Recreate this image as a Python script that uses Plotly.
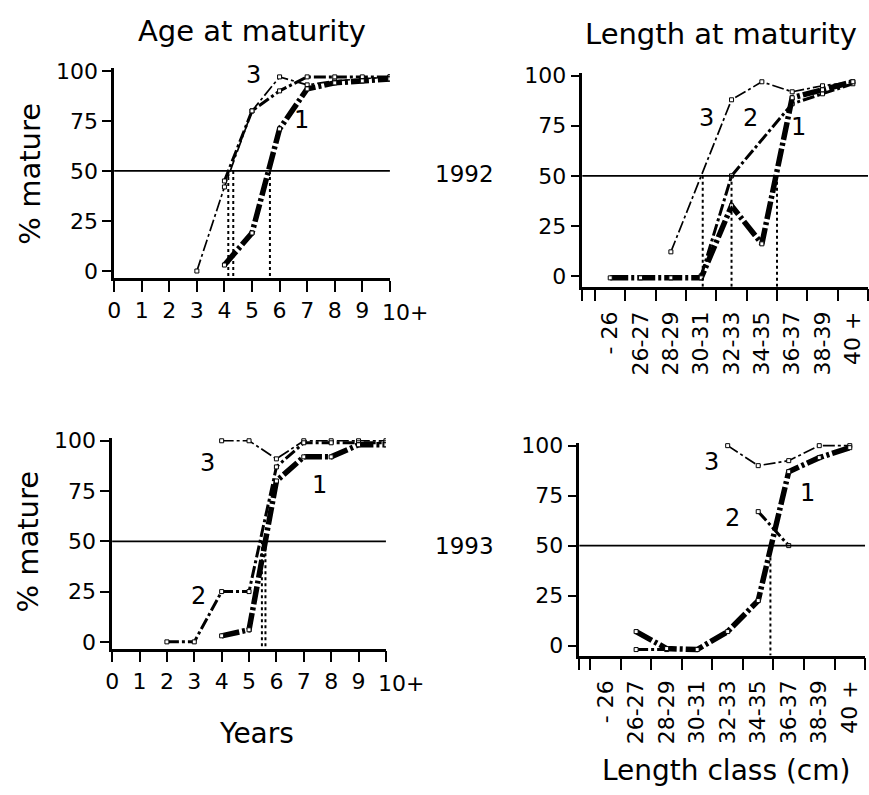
import plotly.graph_objects as go

W, H = 869, 795
FONT = "DejaVu Sans"

# ---------------- data ----------------
age_ticks = list(range(11))
age_ticktext = ["0", "1", "2", "3", "4", "5", "6", "7", "8", "9", ""]
age_last_label = "10+"
len_classes = ["- 26", "26-27", "28-29", "30-31", "32-33", "34-35", "36-37", "38-39", "40 +"]
y_ticks = [0, 25, 50, 75, 100]

# 1992, age at maturity
age92_s1_x = [4, 5, 6, 7, 8, 9, 10]
age92_s1_y = [3, 19, 71, 91, 94, 95, 96]
age92_s2_x = [4, 5, 6, 7, 8, 9, 10]
age92_s2_y = [45, 80, 90, 97, 97, 97, 97]
age92_s3_x = [3, 4, 5, 6, 7, 8, 9, 10]
age92_s3_y = [0, 42, 80, 97, 93, 95, 96, 97]
age92_a50 = [5.65, 4.32, 4.14]

# 1992, length at maturity (x = index into len_classes)
len92_s1_x = [0, 1, 2, 3, 4, 5, 6, 7, 8]
len92_s1_y = [-1, -1, -1, -1, 35, 16, 89, 93, 97]
len92_s2_x = [3, 4, 6, 7, 8]
len92_s2_y = [0, 50, 86, 91, 96]
len92_s3_x = [2, 4, 5, 6, 7, 8]
len92_s3_y = [12, 88, 97, 92, 95, 97]
len92_a50 = [5.5, 4.0, 3.05]

# 1993, age at maturity
age93_s1_x = [4, 5, 6, 7, 8, 9, 10]
age93_s1_y = [3, 6, 80, 92, 92, 98, 98]
age93_s2_x = [2, 3, 4, 5, 6, 7, 8, 9, 10]
age93_s2_y = [0, 0, 25, 25, 87, 99, 99, 99, 99]
age93_s3_x = [4, 5, 6, 7, 8, 9, 10]
age93_s3_y = [100, 100, 91, 100, 100, 100, 100]
age93_a50 = [5.6, 5.47]

# 1993, length at maturity
len93_s1_x = [1, 2, 3, 4, 5, 6, 7, 8]
len93_s1_y = [7, -1.5, -2, 7, 22.5, 87, 94, 99]
len93_s2_x = [1, 2, None, 5, 6]
len93_s2_y = [-2, -2, None, 67, 50]
len93_s3_x = [4, 5, 6, 7, 8]
len93_s3_y = [100, 90, 92.5, 100, 100]
len93_a50 = [5.4]

# ---------------- styles ----------------
STYLE = {
    1: dict(width=5.5, dash="18px,3px,3px,3px"),
    2: dict(width=3.0, dash="12px,3px,3px,3px"),
    3: dict(width=1.7, dash="12px,3px,3px,3px"),
}

def px_x(p):
    return p / W

def px_y(p):
    return 1 - p / H

# panel geometry (pixels): x-left, x-right, y-top, y-bottom, ranges
panels = {
    "TL": dict(xl=108, xr=386, yt=60, yb=274, yr=[-3.4, 101.5], xr_=[0, 10]),
    "TR": dict(xl=580, xr=868, yt=65, yb=283, yr=[-5.4, 101.5], xr_=[-0.92, 8.5]),
    "BL": dict(xl=106, xr=382, yt=437, yb=652, yr=[-3.4, 101.5], xr_=[0, 10]),
    "BR": dict(xl=577, xr=865, yt=442, yb=659, yr=[-5.0, 101.5], xr_=[-0.86, 8.5]),
}
axis_ids = {"TL": ("x", "y"), "TR": ("x2", "y2"), "BL": ("x3", "y3"), "BR": ("x4", "y4")}
label_axes = {"TR": "x5", "BR": "x6"}

fig = go.Figure()

def add_series(panel, xs, ys, k):
    xa, ya = axis_ids[panel]
    fig.add_trace(go.Scatter(
        x=xs, y=ys, xaxis=xa, yaxis=ya, mode="lines+markers",
        line=dict(color="black", **STYLE[k]),
        marker=dict(symbol="square", size=4, color="white", line=dict(color="black", width=1)),
        showlegend=False, hoverinfo="skip", connectgaps=False,
    ))

def add_a50(panel, vals):
    xa, ya = axis_ids[panel]
    xa = label_axes.get(panel, xa)
    ybot = panels[panel]["yr"][0]
    for v in vals:
        fig.add_trace(go.Scatter(
            x=[v, v], y=[50, ybot], xaxis=xa, yaxis=ya, mode="lines",
            line=dict(color="black", width=2, dash="dot"),
            showlegend=False, hoverinfo="skip",
        ))

add_a50("TL", age92_a50)
add_series("TL", age92_s3_x, age92_s3_y, 3)
add_series("TL", age92_s2_x, age92_s2_y, 2)
add_series("TL", age92_s1_x, age92_s1_y, 1)

add_series("TR", len92_s3_x, len92_s3_y, 3)
add_series("TR", len92_s2_x, len92_s2_y, 2)
add_series("TR", len92_s1_x, len92_s1_y, 1)
add_a50("TR", len92_a50)

add_a50("BL", age93_a50)
add_series("BL", age93_s3_x, age93_s3_y, 3)
add_series("BL", age93_s2_x, age93_s2_y, 2)
add_series("BL", age93_s1_x, age93_s1_y, 1)

add_series("BR", len93_s3_x, len93_s3_y, 3)
add_series("BR", len93_s2_x, len93_s2_y, 2)
add_series("BR", len93_s1_x, len93_s1_y, 1)
add_a50("BR", len93_a50)

TICK_SIZE = 22
tickfont = dict(family=FONT, size=TICK_SIZE, color="black")
layout = dict(
    width=W, height=H, autosize=False, margin=dict(l=0, r=0, t=0, b=0),
    paper_bgcolor="white", plot_bgcolor="white", showlegend=False,
)

for name, (xa, ya) in axis_ids.items():
    p = panels[name]
    xkey = "xaxis" if xa == "x" else "xaxis" + xa[1:]
    ykey = "yaxis" if ya == "y" else "yaxis" + ya[1:]
    layout[ykey] = dict(
        domain=[px_y(p["yb"]), px_y(p["yt"])], anchor=xa, range=p["yr"],
        tickvals=y_ticks, ticks="outside", ticklen=9, tickwidth=2, tickcolor="black",
        showline=True, linewidth=2.5, linecolor="black", showgrid=False, zeroline=False,
        tickfont=tickfont,
    )
    xdict = dict(
        domain=[px_x(p["xl"]), px_x(p["xr"])], anchor=ya, range=p["xr_"],
        ticks="outside", ticklen=11, tickwidth=2, tickcolor="black",
        showline=True, linewidth=2.5, linecolor="black", showgrid=False, zeroline=False,
        tickfont=tickfont,
    )
    if name in ("TL", "BL"):
        xdict.update(tickvals=age_ticks, ticktext=age_ticktext, tickangle=0)
    else:
        bounds = [p["xr_"][0]] + [i - 0.5 for i in range(len(len_classes) + 1)]
        xdict.update(tickvals=bounds, showticklabels=False, ticklen=12)
    layout[xkey] = xdict

# overlay axes carrying the class labels (centred between tick marks)
for name, ov in label_axes.items():
    xa, ya = axis_ids[name]
    p = panels[name]
    layout["xaxis" + ov[1:]] = dict(
        overlaying=xa, anchor=ya, range=p["xr_"],
        tickvals=list(range(len(len_classes))), ticktext=len_classes, tickangle=-90,
        ticks="outside", ticklen=15, tickcolor="rgba(0,0,0,0)",
        showline=False, showgrid=False, zeroline=False, tickfont=tickfont,
    )

fig.update_layout(**layout)

# last age tick label, set a little to the right as in the original
for name in ("TL", "BL"):
    xa, ya = axis_ids[name]
    fig.add_annotation(text=age_last_label, x=age_ticks[-1], y=0, xref=xa, yref=ya + " domain",
                       xanchor="left", yanchor="top", xshift=-10, yshift=-20,
                       showarrow=False, font=tickfont)

# 50 % reference lines
for name, (xa, ya) in axis_ids.items():
    fig.add_shape(type="line", xref=xa + " domain", x0=0, x1=1, yref=ya, y0=50, y1=50,
                  line=dict(color="black", width=1.8))

# curve labels
curve_labels = [
    ("TL", "3", 5.04, 98), ("TL", "2", 6.65, 105), ("TL", "1", 6.8, 75.5),
    ("TR", "3", 3.17, 79), ("TR", "2", 4.64, 79), ("TR", "1", 6.2, 74.5),
    ("BL", "3", 3.48, 89), ("BL", "1", 7.57, 78), ("BL", "2", 3.15, 23),
    ("BR", "3", 3.46, 91.7), ("BR", "1", 6.6, 76.5), ("BR", "2", 4.17, 64),
]
for name, txt, x, y in curve_labels:
    xa, ya = axis_ids[name]
    fig.add_annotation(text=txt, x=x, y=y, xref=xa, yref=ya, showarrow=False,
                       font=dict(family=FONT, size=24, color="black"))

# titles and other text
texts = [
    ("Age at maturity", 247, 22, 29, 0),
    ("Length at maturity", 720, 25, 29, 0),
    ("% mature", 23, 168, 29, -90),
    ("% mature", 21, 543, 29, -90),
    ("1992", 461, 168, 23, 0),
    ("1993", 461, 547, 23, 0),
    ("Years", 252, 738, 28, 0),
    ("Length class (cm)", 725, 776, 28, 0),
]
for txt, x, y, size, ang in texts:
    fig.add_annotation(text=txt, x=px_x(x), y=px_y(y), xref="paper", yref="paper",
                       showarrow=False, textangle=ang, xanchor="center", yanchor="middle",
                       font=dict(family=FONT, size=size, color="black"))

fig.write_html("out.html", config={"responsive": False})
